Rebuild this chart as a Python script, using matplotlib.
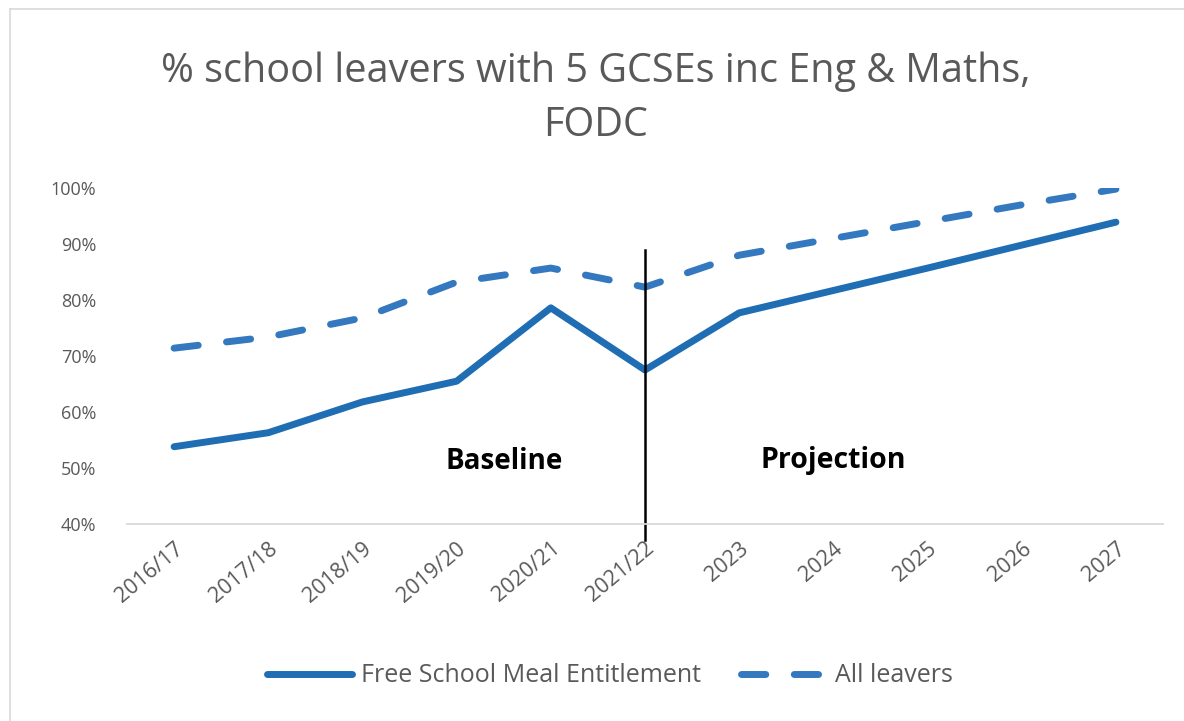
import matplotlib.pyplot as plt
from matplotlib.lines import Line2D

# data
years = ["2016/17", "2017/18", "2018/19", "2019/20", "2020/21", "2021/22",
         "2023", "2024", "2025", "2026", "2027"]
fsm = [53.8, 56.3, 61.8, 65.5, 78.6, 67.5, 77.7, 81.7, 85.7, 89.8, 93.9]
all_leavers = [71.4, 73.4, 76.8, 83.2, 85.7, 82.3, 88.0, 91.0, 94.0, 97.0, 99.8]
yticks = [40, 50, 60, 70, 80, 90, 100]

grey = "#595959"
font = "Open Sans"

fig = plt.figure(figsize=(11.84, 7.21), dpi=100)
ax = fig.add_axes([127 / 1184, 1 - 524 / 721, 1036 / 1184, 336 / 721])

x = list(range(len(years)))
ax.plot(x, fsm, color="#1f6db3", lw=5, solid_capstyle="round",
        label="Free School Meal Entitlement")
ax.plot(x, all_leavers, color="#3478c0", lw=5, dashes=(3.5, 4.1),
        dash_capstyle="round", label="All leavers")

ax.set_xlim(-0.5, len(years) - 0.5)
ax.set_ylim(40, 100)
ax.set_yticks(yticks)
ax.set_yticklabels([f"{v}%" for v in yticks], color=grey, fontsize=13, family=font)
ax.set_xticks(x)
ax.set_xticklabels(years, rotation=40, ha="right", rotation_mode="anchor",
                   color=grey, fontsize=15.5, family=font)
ax.tick_params(axis="y", length=0, pad=22)
ax.tick_params(axis="x", length=0, pad=10)
for s in ["top", "right", "left"]:
    ax.spines[s].set_visible(False)
ax.spines["bottom"].set_color("#d9d9d9")
ax.spines["bottom"].set_linewidth(1.3)

# divider between baseline and projection
ax.plot([5, 5], [88.9, 37.2], color="black", lw=1.8, clip_on=False)
ax.text(3.5, 51.2, "Baseline", fontsize=20, fontweight="bold", family=font,
        ha="center", va="center")
ax.text(7.0, 51.4, "Projection", fontsize=20.5, fontweight="bold", family=font,
        ha="center", va="center")

fig.text(0.503, 1 - 99 / 721, "% school leavers with 5 GCSEs inc Eng & Maths,\nFODC",
         ha="center", va="center", fontsize=28.5, color=grey, family=font,
         linespacing=1.45)

leg = fig.legend(loc="center", bbox_to_anchor=(0.515, 1 - 676 / 721), ncol=2,
                 frameon=False, handlelength=3.4, columnspacing=1.6,
                 handletextpad=0.35, prop={"family": font, "size": 18})
for t in leg.get_texts():
    t.set_color(grey)

# chart area border (top and left visible)
fig.add_artist(Line2D([10 / 1184, 1], [1 - 9 / 721, 1 - 9 / 721],
                      transform=fig.transFigure, color="#d9d9d9", lw=1.2))
fig.add_artist(Line2D([10 / 1184, 10 / 1184], [0, 1 - 9 / 721],
                      transform=fig.transFigure, color="#d9d9d9", lw=1.2))

fig.savefig("out.png", dpi=100)
